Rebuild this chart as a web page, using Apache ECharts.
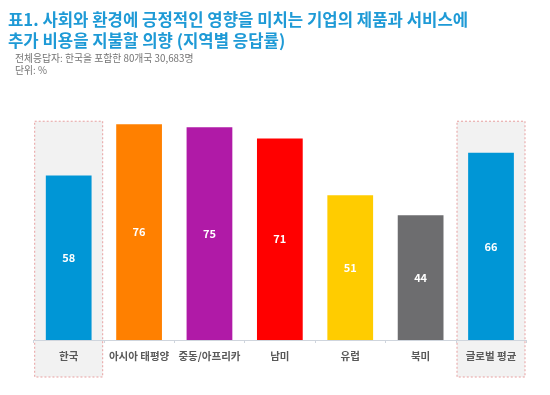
<!DOCTYPE html>
<html><head><meta charset="utf-8">
<script src="https://cdn.jsdelivr.net/npm/echarts@6/dist/echarts.min.js"></script>
<style>html,body{margin:0;padding:0;background:#fff}#c{width:550px;height:395px}</style>
</head><body><div id="c"></div>
<script>
const categories = ['한국','아시아 태평양','중동/아프리카','남미','유럽','북미','글로벌 평균'];
const values = [58,76,75,71,51,44,66];
const colors = ['#0096d6','#ff8000','#b01aa7','#ff0000','#ffcc00','#6d6d6f','#0096d6'];
const highlighted = [0,6];
const titleLines = ['표1. 사회와 환경에 긍정적인 영향을 미치는 기업의 제품과 서비스에','추가 비용을 지불할 의향 (지역별 응답률)'];
const subLines = ['전체응답자: 한국을 포함한 80개국 30,683명','단위: %'];

const FONT = '"Noto Sans CJK KR", "Noto Sans", sans-serif';
const chart = echarts.init(document.getElementById('c'));
chart.setOption({
  animation:false,
  grid:{left:33.5,right:23.8,top:113,bottom:55,containLabel:false},
  xAxis:{type:'category',data:categories,
    axisLine:{lineStyle:{color:'#cfd5dd',width:1}},
    axisTick:{show:true,length:3,lineStyle:{color:'#cfd5dd'}},
    axisLabel:{color:'#595959',fontSize:10.5,fontWeight:'bold',fontFamily:FONT,margin:11,interval:0}},
  yAxis:{type:'value',min:0,max:80,show:false,splitLine:{show:false}},
  series:[{type:'bar',barWidth:'65%',z:5,
    data:values.map((v,i)=>({value:v,itemStyle:{color:colors[i]}})),
    label:{show:true,position:'inside',color:'#fff',fontSize:11,fontWeight:'bold',fontFamily:FONT}}]
});
function drawDecor(){
  const els=[];
  highlighted.forEach(i=>{
    const cx=chart.convertToPixel({xAxisIndex:0},categories[i]);
    const yTop=chart.convertToPixel({yAxisIndex:0},77.1);
    els.push({type:'rect',z:-10,silent:true,shape:{x:cx-34,y:yTop,width:68,height:377-yTop},
      style:{fill:'#f2f2f2',stroke:'#e8a0a0',lineWidth:1,lineDash:[2,2]}});
  });
  els.push({type:'text',left:8,top:9,style:{text:titleLines.join('\n'),fill:'#1e9ad6',font:'bold 16.7px '+FONT,lineHeight:21}});
  els.push({type:'text',left:15,top:52,style:{text:subLines.join('\n'),fill:'#737373',font:'9.8px '+FONT,lineHeight:12}});
  chart.setOption({graphic:els});
}
drawDecor();
</script></body></html>
